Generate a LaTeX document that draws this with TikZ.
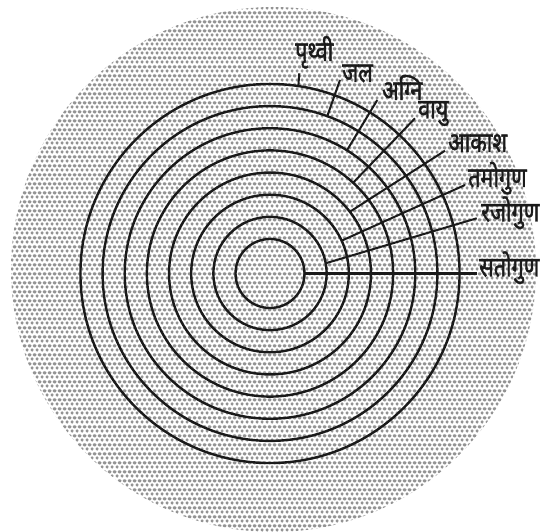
\documentclass[tikz,border=0pt]{standalone}
\usepackage{fontspec}
\newfontfamily\devfont[Script=Devanagari,FakeBold=1.4,FakeStretch=0.77]{Noto Sans}
\usepackage{tikz}
\usetikzlibrary{patterns,calc}
\definecolor{Ink}{HTML}{1A1A1A}
\definecolor{Dot}{HTML}{939393}
\pgfdeclarepatternformonly{hexdots}{\pgfpointorigin}{\pgfpoint{5pt}{8.6pt}}{\pgfpoint{5pt}{8.6pt}}{
  \pgfpathcircle{\pgfpoint{2.5pt}{2.15pt}}{1.95pt}
  \pgfpathcircle{\pgfpoint{0pt}{6.45pt}}{1.95pt}
  \pgfpathcircle{\pgfpoint{5pt}{6.45pt}}{1.95pt}
  \pgfusepath{fill}}
\tikzset{
  disc/.style={pattern=hexdots,pattern color=Dot},
  ring/.style={draw=Ink,line width=2.4pt},
  leader/.style={draw=Ink,line width=2pt},
  axisleader/.style={leader,line width=2.8pt},
  lab/.style={font=\devfont\fontsize{28}{28}\selectfont,text=Ink,inner sep=0pt,anchor=base west}
}
\begin{document}
\begin{tikzpicture}[x=1pt,y=1pt]
  \useasboundingbox (0,0) rectangle (543,532);
  \coordinate (o) at (270,258.5);
  \coordinate (bc) at (273.5,262.5);
  % dotted disc and the eight rings
  \fill[disc] (bc) circle[radius=262.5pt];
  \foreach \k in {0,...,7}
    \draw[ring] (o) circle[radius={34.5pt+22.15pt*\k}];
  % leaders from the rings
  \foreach \n/\ang/\k/\ex/\ey in {1/81.4/7/299.3/458.7, 2/70/6/340/452, 3/58/5/377.3/432,
      4/47.5/4/415/413.7, 5/37.7/3/445/381.3, 6/24.6/2/465/347, 7/10.4/1/476.7/313.7}{
    \coordinate (s\n) at ($(o)+(\ang:{34.5+22.15*\k})$);
    \coordinate (e\n) at (\ex,\ey);
    \draw[leader] (s\n)--(e\n);
  }
  \coordinate (s8) at ($(o)+(0:34.5)$);
  \coordinate (e8) at (477,258.5);
  \draw[axisleader] (s8)--(e8);
  % labels
  \node[lab] (prithvi) at (295,471) {पृथ्वी};
  \node[lab] (jal) at (342,450) {जल};
  \node[lab] (agni) at (382,432) {अग्नि};
  \node[lab] (vayu) at (418,413.5) {वायु};
  \node[lab] (akash) at (448,380) {आकाश};
  \node[lab] (tamo) at (468,345) {तमोगुण};
  \node[lab] (rajo) at (481,310.5) {रजोगुण};
  \node[lab] (sato) at (479,255.5) {सतोगुण};
\end{tikzpicture}
\end{document}
